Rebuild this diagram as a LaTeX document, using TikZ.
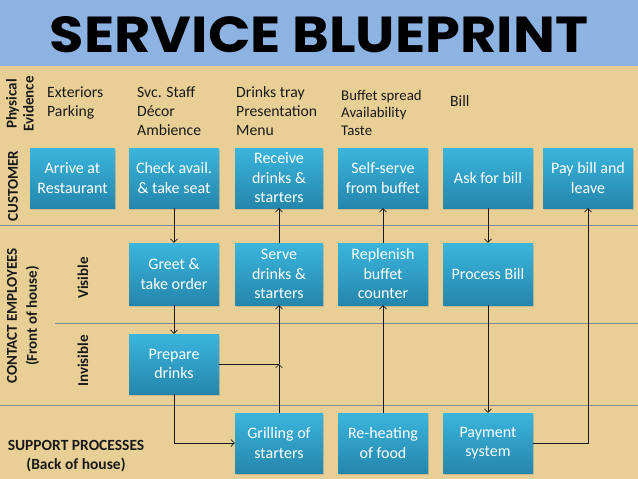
\documentclass[tikz,border=0pt]{standalone}
\usepackage{fontspec}
\setmainfont{Carlito}
\newfontfamily\titlefont{Poppins}
\usetikzlibrary{shadows,arrows.meta}
\definecolor{bg}{HTML}{E8CF96}
\definecolor{band}{HTML}{8DB3E2}
\definecolor{boxtop}{HTML}{3BB5DD}
\definecolor{boxbot}{HTML}{2586AC}
\definecolor{lanecol}{HTML}{7D8C9C}
\definecolor{ink}{HTML}{1A1A1A}
\begin{document}
\begin{tikzpicture}[x=1pt,y=-1pt,
 box/.style={rectangle, minimum width=90pt, minimum height=60pt, inner sep=0pt, align=center, text=white,
   font=\fontsize{16}{19.5}\selectfont, top color=boxtop, bottom color=boxbot, draw=none,
   drop shadow={shadow xshift=1.2pt, shadow yshift=-1.5pt, opacity=0.3}},
 ev/.style={anchor=north west, align=left, font=\fontsize{15.7}{19}\selectfont, text=ink, inner sep=0pt},
 lanelbl/.style={font=\bfseries\fontsize{15}{20}\selectfont, text=ink, align=center, inner sep=0pt},
 laneline/.style={draw=lanecol, line width=0.9pt},
 conn/.style={draw=ink, line width=0.7pt},
 flow/.style={conn, -{Straight Barb[length=3.5pt,width=7pt]}}]
\useasboundingbox (0,0) rectangle (638,479);
\fill[bg] (0,0) rectangle (638,479);
\fill[band] (0,0) rectangle (638,66);
\node[inner sep=0pt] (title) at (319,35) {\resizebox{538pt}{36pt}{\titlefont\bfseries SERVICE BLUEPRINT}};

% lane lines
\draw[laneline] (0,225) -- (638,225);
\draw[laneline] (55,323) -- (638,323);
\draw[laneline] (0,405) -- (638,405);

% lane labels
\node[lanelbl, rotate=90, font=\bfseries\fontsize{15}{17}\selectfont] (lpe) at (20,104) {Physical\\Evidence};
\node[lanelbl, rotate=90] (lcu) at (13,186) {CUSTOMER};
\node[lanelbl, rotate=90] (lce) at (23,316) {CONTACT EMPLOYEES\\(Front of house)};
\node[lanelbl, rotate=90] (lvi) at (83,278) {Visible};
\node[lanelbl, rotate=90] (lin) at (83,361) {Invisible};
\node[lanelbl, font=\bfseries\fontsize{15.5}{19}\selectfont] (lsp) at (76,456) {SUPPORT PROCESSES\\(Back of house)};

% physical evidence
\node[ev] (e1) at (47,86) {Exteriors\\Parking};
\node[ev] (e2) at (137,86) {Svc. Staff\\Décor\\Ambience};
\node[ev] (e3) at (236,86) {Drinks tray\\Presentation\\Menu};
\node[ev, font=\fontsize{14.8}{17.5}\selectfont] (e4) at (341,90) {Buffet spread\\Availability\\Taste};
\node[ev] (e5) at (450,95) {Bill};

% customer
\node[box, minimum width=85pt] (c1) at (72.5,178) {Arrive at\\Restaurant};
\node[box] (c2) at (174,178) {Check avail.\\\& take seat};
\node[box, minimum width=88pt] (c3) at (279,178) {Receive\\drinks \&\\starters};
\node[box] (c4) at (383,178) {Self-serve\\from buffet};
\node[box] (c5) at (488,178) {Ask for bill};
\node[box] (c6) at (588,178) {Pay bill and\\leave};

% visible
\node[box, minimum height=62pt] (v2) at (174,274) {Greet \&\\take order};
\node[box, minimum height=62pt, minimum width=88pt] (v3) at (279,274) {Serve\\drinks \&\\starters};
\node[box, minimum height=62pt] (v4) at (383,274) {Replenish\\buffet\\counter};
\node[box, minimum height=62pt] (v5) at (488,274) {Process Bill};

% invisible
\node[box] (i2) at (174,364) {Prepare\\drinks};

% support
\node[box, minimum width=88pt] (s3) at (279,443) {Grilling of\\starters};
\node[box] (s4) at (383,443) {Re-heating\\of food};
\node[box] (s5) at (488,443) {Payment\\system};

% connectors
\coordinate (j) at (s3.north |- i2.east);
\draw[flow] (c2.south) -- (v2.north);
\draw[flow] (v2.south) -- (i2.north);
\draw[flow] (i2.south) |- (s3.west);
\draw[conn] (i2.east) -- (j);
\draw[flow] (s3.north) -- (j);
\draw[flow] (j) -- (v3.south);
\draw[flow] (v3.north) -- (c3.south);
\draw[flow] (s4.north) -- (v4.south);
\draw[flow] (v4.north) -- (c4.south);
\draw[flow] (c5.south) -- (v5.north);
\draw[flow] (v5.south) -- (s5.north);
\draw[flow] (s5.east) -| (c6.south);
\end{tikzpicture}
\end{document}
